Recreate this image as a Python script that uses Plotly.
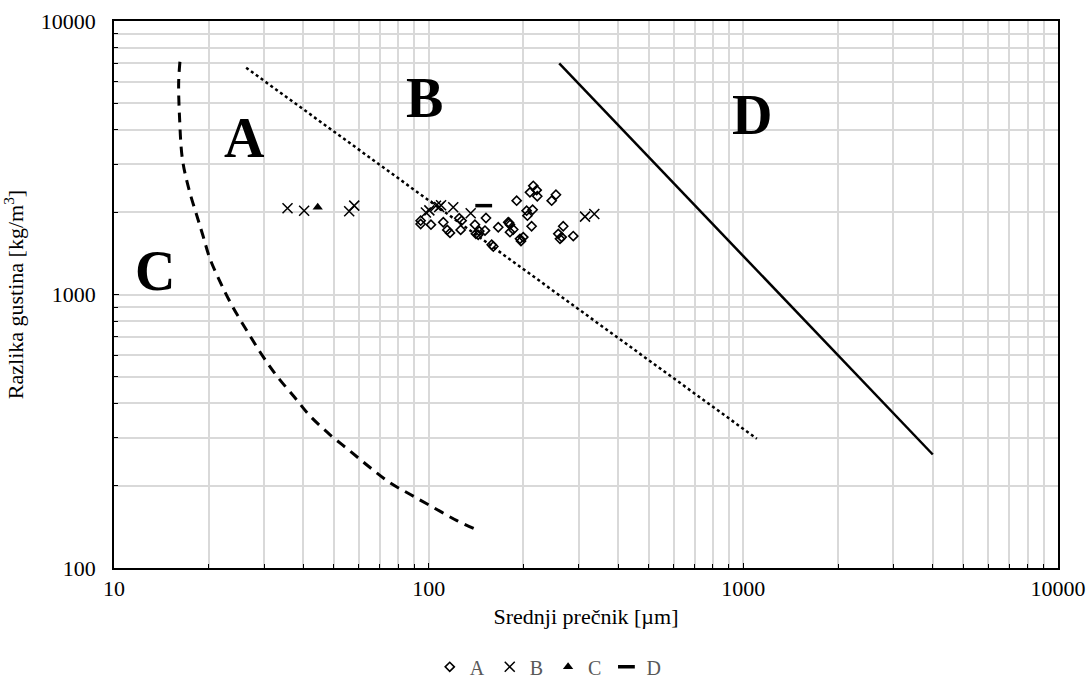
import math
import plotly.graph_objects as go

# ---- data ----
a_x = [94.3, 94.3, 101.7, 111.3, 114.6, 116.9, 126.4, 125.1, 127.3, 140.3, 141.3, 144.8, 143.7, 151.0,
       152.1, 158.6, 160.5, 166.4, 179.0, 181.3, 181.3, 185.7, 190.4, 195.1, 199.8, 204.8, 206.0, 214.0,
       212.4, 209.8, 215.0, 220.4, 221.4, 246.0, 253.8, 258.2, 264.6, 261.4, 267.7, 288.1, 180.3, 196.5]
a_y = [1862, 1811, 1800, 1837, 1723, 1680, 1723, 1900, 1862, 1800, 1666, 1705, 1652, 1713,
       1905, 1520, 1498, 1762, 1837, 1800, 1690, 1728, 2203, 1598, 1621, 2025, 1942, 2042,
       1777, 2363, 2497, 2409, 2286, 2203, 2316, 1666, 1621, 1598, 1777, 1635, 1826, 1568]

b_x = [35.6, 40.2, 55.9, 58.0, 98.0, 100.5, 105.5, 108.0, 109.5, 119.7, 136.0, 314.0, 336.0]
b_y = [2067, 2025, 2015, 2113, 1995, 2030, 2110, 2090, 2120, 2085, 1982, 1926, 1970]

c_x = [44.4]
c_y = [2085]

d_x = [149.6]
d_y = [2113]

curve_c_x = [16.2, 16.05, 16.15, 16.5, 17.3, 18.35, 19.18, 20.18, 21.72, 23.7, 26.5, 29.7, 32.96,
             37.6, 41.96, 48.6, 56.2, 65.1, 75.3, 87.2, 103, 123, 140]
curve_c_y = [7096, 5950, 4477, 3123, 2429, 1936, 1639, 1352, 1115, 912, 734, 595, 503,
             419, 360, 307, 268, 233, 205, 186, 167, 149, 139]

curve_ab_x = [26.3, 1104]
curve_ab_y = [6745, 297]

curve_bd_x = [260, 4000]
curve_bd_y = [7000, 260]

region_labels = ["A", "B", "C", "D"]
region_lx = [26.0, 97.0, 13.5, 1065.0]
region_ly = [3750, 5250, 1220, 4550]

x_ticks = [10, 100, 1000, 10000]
y_ticks = [100, 1000, 10000]

FONT = "Liberation Serif, Times New Roman, serif"

fig = go.Figure()

fig.add_trace(go.Scatter(x=curve_c_x, y=curve_c_y, mode="lines", showlegend=False,
                         line=dict(color="black", width=3, dash="10px,7px", shape="spline", smoothing=1.0),
                         hoverinfo="skip"))
fig.add_trace(go.Scatter(x=curve_ab_x, y=curve_ab_y, mode="lines", showlegend=False,
                         line=dict(color="black", width=2.5, dash="dot"), hoverinfo="skip"))
fig.add_trace(go.Scatter(x=curve_bd_x, y=curve_bd_y, mode="lines", showlegend=False,
                         line=dict(color="black", width=2.5), hoverinfo="skip"))

fig.add_trace(go.Scatter(x=a_x, y=a_y, mode="markers", name="A",
                         marker=dict(symbol="diamond-open", size=7, color="black",
                                     line=dict(width=1.6, color="black"))))
fig.add_trace(go.Scatter(x=b_x, y=b_y, mode="markers", name="B",
                         marker=dict(symbol="x-thin-open", size=10, color="black",
                                     line=dict(width=1.5, color="black"))))
fig.add_trace(go.Scatter(x=c_x, y=c_y, mode="markers", name="C",
                         marker=dict(symbol="triangle-up", size=9, color="black")))
fig.add_trace(go.Scatter(x=d_x, y=d_y, mode="markers", name="D",
                         marker=dict(symbol="line-ew-open", size=12, color="black",
                                     line=dict(width=3.5, color="#222222"))))

for t, lx, ly in zip(region_labels, region_lx, region_ly):
    fig.add_annotation(x=math.log10(lx), y=math.log10(ly), text="<b>%s</b>" % t, showarrow=False,
                       font=dict(family=FONT, size=56, color="black"), xref="x", yref="y")

minor_x = [m * 10 ** e for e in range(1, 4) for m in range(2, 10)]
minor_y = [m * 10 ** e for e in range(2, 4) for m in range(2, 10)]

fig.update_xaxes(type="log", range=[1, 4], tickvals=x_ticks, ticktext=[str(v) for v in x_ticks],
                 automargin=False,
                 showline=True, linecolor="black", linewidth=1.5, mirror=True,
                 ticks="inside", ticklen=5, tickcolor="black",
                 showgrid=True, gridcolor="#d9d9d9", gridwidth=1.5,
                 minor=dict(tickvals=minor_x, showgrid=True, gridcolor="#d9d9d9", gridwidth=1.5,
                            ticks="inside", ticklen=4, tickcolor="black"),
                 tickfont=dict(family=FONT, size=22, color="black"),
                 title=dict(text="Srednji prečnik [µm]", font=dict(family=FONT, size=22, color="black"),
                            standoff=8),
                 zeroline=False)
fig.update_yaxes(type="log", range=[2, 4], tickvals=y_ticks, ticktext=[str(v) for v in y_ticks],
                 automargin=False, ticklabelstandoff=12,
                 showline=True, linecolor="black", linewidth=1.5, mirror=True,
                 ticks="inside", ticklen=5, tickcolor="black",
                 showgrid=True, gridcolor="#d9d9d9", gridwidth=1.5,
                 minor=dict(tickvals=minor_y, showgrid=True, gridcolor="#d9d9d9", gridwidth=1.5,
                            ticks="inside", ticklen=4, tickcolor="black"),
                 tickfont=dict(family=FONT, size=22, color="black"),
                 title=dict(text="Razlika gustina [kg/m<sup>3</sup>]",
                            font=dict(family=FONT, size=22, color="black"), standoff=14),
                 zeroline=False)

fig.update_layout(width=1086, height=698, margin=dict(l=114, r=28, t=21, b=127),
                  paper_bgcolor="white", plot_bgcolor="white",
                  font=dict(family=FONT, size=20, color="black"),
                  legend=dict(orientation="h", x=0.46, xanchor="center", y=-0.145, yanchor="top",
                              font=dict(family=FONT, size=20, color="#595959"),
                              itemwidth=30, tracegroupgap=0))

fig.write_html("out.html")
